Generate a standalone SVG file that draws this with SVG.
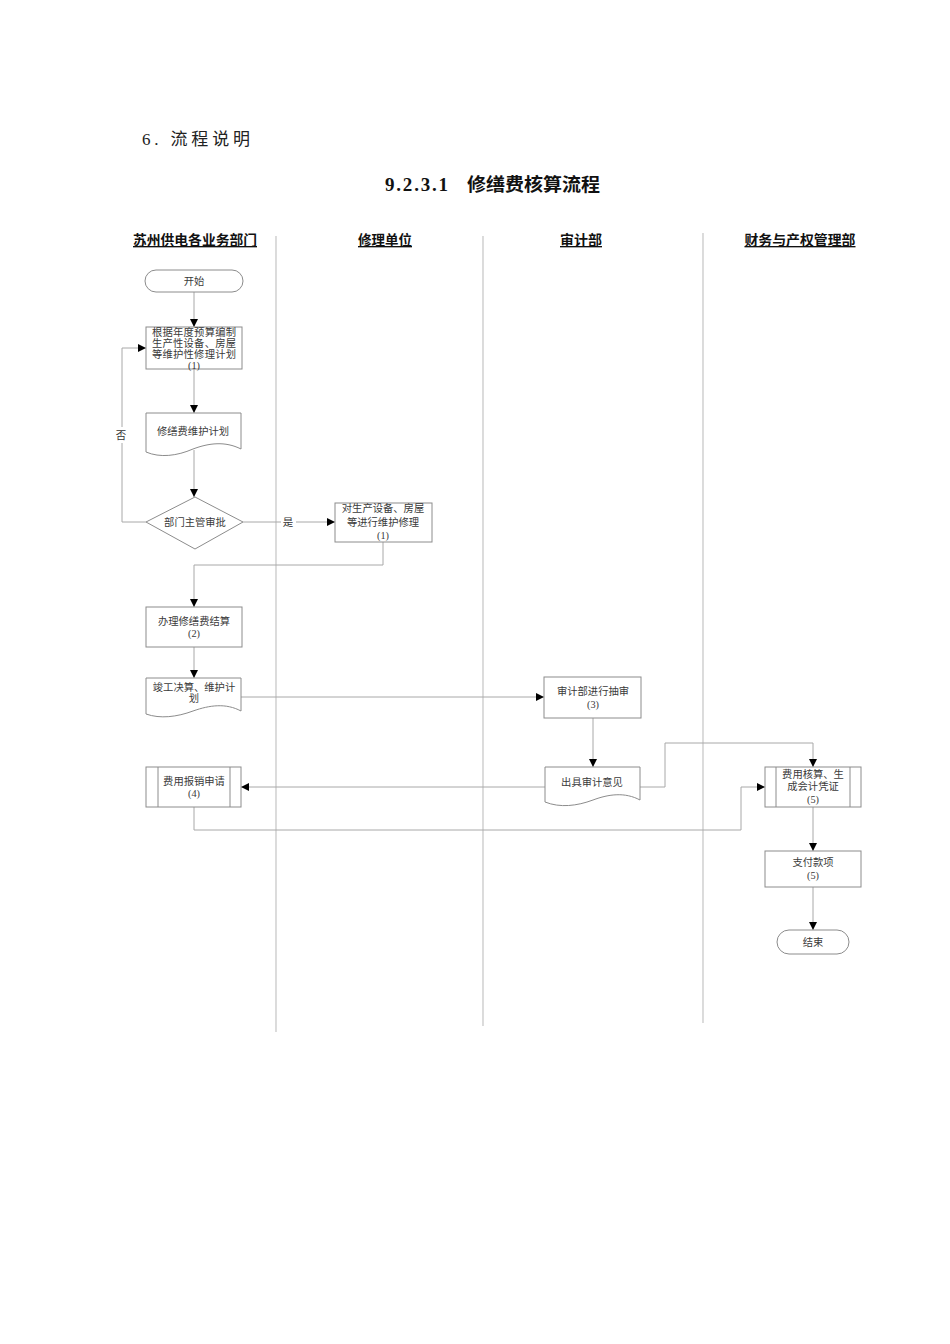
<svg xmlns="http://www.w3.org/2000/svg" width="950" height="1344" viewBox="0 0 950 1344">
<style>
.bg{fill:#fff}
.box{fill:#fff;stroke:#8c8c8c;stroke-width:1}
.conn{fill:none;stroke:#a8a8a8;stroke-width:1}
.lane{fill:none;stroke:#c4c4c4;stroke-width:1.2}
.t{font-family:"Liberation Serif","Noto Sans CJK SC",serif;font-size:10.3px;fill:#3a3a3a;text-anchor:middle}
.hd{font-family:"Noto Sans CJK SC",sans-serif;font-size:13.5px;font-weight:bold;fill:#111;text-anchor:middle;text-decoration:underline}
.lbl{font-family:"Liberation Serif","Noto Sans CJK SC",serif;font-size:10.5px;fill:#333;text-anchor:middle}
</style>
<defs>
<marker id="arr" markerUnits="userSpaceOnUse" markerWidth="9" markerHeight="8" refX="8" refY="4" orient="auto">
<path d="M0,0 L8,4 L0,8 Z" fill="#000"/>
</marker>
</defs>
<rect class="bg" x="0" y="0" width="950" height="1344"/>

<g id="page-text">
<text x="142" y="145" font-family="Liberation Serif,'Noto Sans CJK SC',serif" font-size="17" fill="#222" textLength="108" lengthAdjust="spacing">6. 流程说明</text>
<text x="385" y="191" font-family="Liberation Serif,'Noto Sans CJK SC',serif" font-size="19" font-weight="bold" fill="#111" textLength="63" lengthAdjust="spacing">9.2.3.1</text>
<text x="467" y="191" font-family="'Noto Sans CJK SC',sans-serif" font-size="18" font-weight="bold" fill="#111" textLength="133" lengthAdjust="spacingAndGlyphs">修缮费核算流程</text>
</g>

<g id="lanes">
<line class="lane" x1="276" y1="236" x2="276" y2="1032"/>
<line class="lane" x1="483" y1="236" x2="483" y2="1026"/>
<line class="lane" x1="703" y1="233" x2="703" y2="1023"/>
<text class="hd" x="195" y="245" textLength="124" lengthAdjust="spacingAndGlyphs">苏州供电各业务部门</text>
<text class="hd" x="385" y="245" textLength="54" lengthAdjust="spacingAndGlyphs">修理单位</text>
<text class="hd" x="581" y="245" textLength="42" lengthAdjust="spacingAndGlyphs">审计部</text>
<text class="hd" x="800" y="245" textLength="111" lengthAdjust="spacingAndGlyphs">财务与产权管理部</text>
</g>

<g id="connectors">
<path class="conn" d="M194,292 V327" marker-end="url(#arr)"/>
<path class="conn" d="M194,369 V413" marker-end="url(#arr)"/>
<path class="conn" d="M194,450 V497" marker-end="url(#arr)"/>
<path class="conn" d="M243,522 H335" marker-end="url(#arr)"/>
<path class="conn" d="M146,522 H122 V348 H146" marker-end="url(#arr)"/>
<path class="conn" d="M383,542 V565 H194 V607" marker-end="url(#arr)"/>
<path class="conn" d="M194,647 V678" marker-end="url(#arr)"/>
<path class="conn" d="M241,697 H544" marker-end="url(#arr)"/>
<path class="conn" d="M593,718 V767" marker-end="url(#arr)"/>
<path class="conn" d="M545,787 H241" marker-end="url(#arr)"/>
<path class="conn" d="M640,787 H665 V743 H813 V767" marker-end="url(#arr)"/>
<path class="conn" d="M194,807 V830 H741 V787 H765" marker-end="url(#arr)"/>
<path class="conn" d="M813,807 V851" marker-end="url(#arr)"/>
<path class="conn" d="M813,887 V930" marker-end="url(#arr)"/>
<rect x="281" y="515" width="15" height="14" fill="#fff"/>
<text class="lbl" x="288" y="526">是</text>
<rect x="115" y="427" width="14" height="16" fill="#fff"/>
<text class="lbl" x="121" y="439">否</text>
</g>

<g id="start">
<rect class="box" x="145" y="270" width="98" height="22" rx="11"/>
<text class="t" x="194" y="285">开始</text>
</g>

<g id="plan">
<rect class="box" x="146" y="327" width="96" height="42"/>
<text class="t" x="194" y="336" textLength="84" lengthAdjust="spacing">根据年度预算编制</text>
<text class="t" x="194" y="347" textLength="84" lengthAdjust="spacing">生产性设备、房屋</text>
<text class="t" x="194" y="358" textLength="84" lengthAdjust="spacing">等维护性修理计划</text>
<text class="t" x="194" y="369">(1)</text>
</g>

<g id="doc-plan">
<path class="box" d="M146,413 H241 V449 C225,441 209,443 193,449 C177,456 160,458 146,452 Z"/>
<text class="t" x="193" y="435">修缮费维护计划</text>
</g>

<g id="approve">
<path class="box" d="M195,497 L243,522 L195,549 L146,522 Z"/>
<text class="t" x="195" y="526">部门主管审批</text>
</g>

<g id="repair">
<rect class="box" x="335" y="503" width="97" height="39"/>
<text class="t" x="383" y="512">对生产设备、房屋</text>
<text class="t" x="383" y="526">等进行维护修理</text>
<text class="t" x="383" y="539">(1)</text>
</g>

<g id="settle">
<rect class="box" x="146" y="607" width="96" height="40"/>
<text class="t" x="194" y="625">办理修缮费结算</text>
<text class="t" x="194" y="637">(2)</text>
</g>

<g id="doc-final">
<path class="box" d="M146,678 H241 V711 C226,703 210,705 193,711 C177,717 160,719 146,714 Z"/>
<text class="t" x="194" y="691">竣工决算、维护计</text>
<text class="t" x="194" y="702">划</text>
</g>

<g id="audit">
<rect class="box" x="544" y="677" width="97" height="41"/>
<text class="t" x="593" y="695">审计部进行抽审</text>
<text class="t" x="593" y="708">(3)</text>
</g>

<g id="doc-opinion">
<path class="box" d="M545,767 H640 V800 C625,792 609,794 593,800 C577,806 560,808 545,802 Z"/>
<text class="t" x="592" y="786">出具审计意见</text>
</g>

<g id="reimburse">
<rect class="box" x="146" y="767" width="95" height="40"/>
<line class="box" x1="158" y1="767" x2="158" y2="807"/>
<line class="box" x1="230" y1="767" x2="230" y2="807"/>
<text class="t" x="194" y="785">费用报销申请</text>
<text class="t" x="194" y="797">(4)</text>
</g>

<g id="account">
<rect class="box" x="765" y="767" width="96" height="40"/>
<line class="box" x1="776" y1="767" x2="776" y2="807"/>
<line class="box" x1="850" y1="767" x2="850" y2="807"/>
<text class="t" x="813" y="778">费用核算、生</text>
<text class="t" x="813" y="790">成会计凭证</text>
<text class="t" x="813" y="803">(5)</text>
</g>

<g id="pay">
<rect class="box" x="765" y="851" width="96" height="36"/>
<text class="t" x="813" y="866">支付款项</text>
<text class="t" x="813" y="879">(5)</text>
</g>

<g id="end">
<rect class="box" x="777" y="930" width="72" height="24" rx="12"/>
<text class="t" x="813" y="946">结束</text>
</g>
</svg>
